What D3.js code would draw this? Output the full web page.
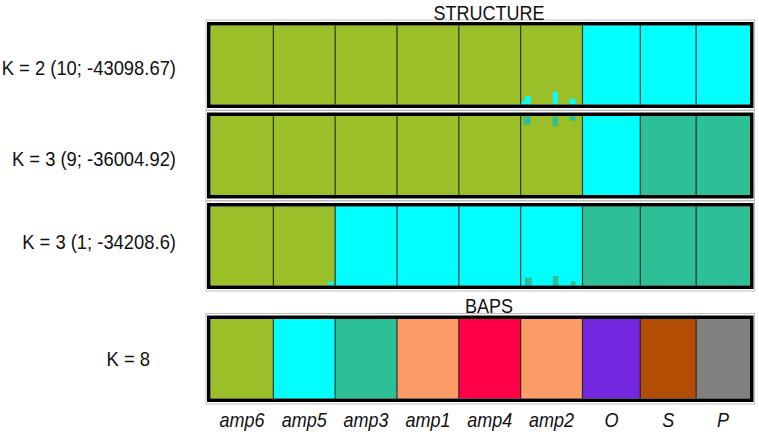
<!DOCTYPE html>
<html><head><meta charset="utf-8">
<script src="https://cdn.jsdelivr.net/npm/d3@7"></script>
<style>html,body{margin:0;padding:0;background:#fff;}svg{display:block;}</style>
</head><body>
<script>
// ---------- data ----------
const populations = ["amp6","amp5","amp3","amp1","amp4","amp2","O","S","P"];
const popWeights = [63,62,62,62,62,62,58,56,54];          // relative column widths (sample sizes)
const structureLabels = ["K = 2 (10; -43098.67)","K = 3 (9; -36004.92)","K = 3 (1; -34208.6)"];
const bapsLabel = "K = 8";
const structureAssign = [
  [0,0,0,0,0,0,1,1,1],
  [0,0,0,0,0,0,1,2,2],
  [0,0,1,1,1,1,2,2,2]
];
const bapsAssign = [0,1,2,3,4,3,5,6,7];
const structureColors = ["#9abf28","#00ffff","#2dbf96"];
const bapsColors = ["#9abf28","#00ffff","#2dbf96","#fc9b66","#ff0048","#7328e0","#b34d03","#808080"];
// admixed individuals: [row, population, start frac, end frac, proportion, cluster, fromTop]
const admixed = [
  [0,5,0.00,0.07,0.04,1,0],
  [0,5,0.07,0.16,0.11,1,0],
  [0,5,0.52,0.60,0.16,1,0],
  [0,5,0.79,0.89,0.07,1,0],
  [1,5,0.05,0.16,0.11,2,1],
  [1,5,0.52,0.60,0.13,2,1],
  [1,5,0.79,0.89,0.06,2,1],
  [2,5,0.07,0.18,0.10,2,0],
  [2,5,0.52,0.61,0.12,2,0],
  [2,5,0.81,0.89,0.05,2,0],
  [2,1,0.89,0.97,0.05,1,0]
];

// ---------- layout ----------
const W = 759, H = 436;
const svg = d3.select("body").append("svg").attr("width", W).attr("height", H)
  .style("font-family", "'Liberation Sans', Arial, sans-serif");

const starts = [0, ...Array.from(d3.cumsum(popWeights)).slice(0, -1)];
const x = d3.scaleLinear().domain([0, d3.sum(popWeights)]).range([210.5, 750]);
const yRow = d3.scaleBand().domain(d3.range(3)).range([22, 289]).paddingInner(0.05);
const bapsTop = 315.5, bapsH = 86.5;
const border = 3.5;

function drawPanel(top, h, assign, colors, rowIndex) {
  const g = svg.append("g");
  const inTop = top + border, inBot = top + h - border;
  const q = d3.scaleLinear().domain([0, 1]).range([0, inBot - inTop]);
  // gray outer hairline
  g.append("rect").attr("x", 206).attr("y", top - 2).attr("width", 548.5).attr("height", h + 4)
    .attr("fill", "none").attr("stroke", "#bdbdbd").attr("stroke-width", 1);
  // population fills
  g.selectAll("rect.pop").data(populations).join("rect").attr("class", "pop")
    .attr("x", (d, i) => x(starts[i]))
    .attr("width", (d, i) => x(starts[i] + popWeights[i]) - x(starts[i]) + 0.5)
    .attr("y", inTop).attr("height", inBot - inTop)
    .attr("fill", (d, i) => colors[assign[i]]);
  // admixed individuals
  if (rowIndex !== null) {
    const sp = admixed.filter(a => a[0] === rowIndex);
    g.selectAll("rect.adm").data(sp).join("rect").attr("class", "adm")
      .attr("x", a => x(starts[a[1]] + a[2] * popWeights[a[1]]))
      .attr("width", a => x(starts[a[1]] + a[3] * popWeights[a[1]]) - x(starts[a[1]] + a[2] * popWeights[a[1]]))
      .attr("y", a => a[6] ? inTop : inBot - q(a[4]))
      .attr("height", a => q(a[4]))
      .attr("fill", a => colors[a[5]]);
  }
  // dividers
  g.selectAll("line.div").data(starts.slice(1)).join("line").attr("class", "div")
    .attr("x1", d => x(d)).attr("x2", d => x(d))
    .attr("y1", inTop).attr("y2", inBot)
    .attr("stroke", "#1c1c1c").attr("stroke-opacity", 0.85).attr("stroke-width", 1.2);
  // black border
  g.append("rect").attr("x", 207 + border / 2).attr("y", top + border / 2)
    .attr("width", 546.5 - border).attr("height", h - border)
    .attr("fill", "none").attr("stroke", "#000").attr("stroke-width", border);
}

structureAssign.forEach((assign, r) => drawPanel(yRow(r), yRow.bandwidth(), assign, structureColors, r));
drawPanel(bapsTop, bapsH, bapsAssign, bapsColors, null);

// text helper with horizontal condensing
function label(txt, xPos, yPos, opts) {
  const o = Object.assign({size: 20, sx: 0.9, anchor: "middle", italic: false}, opts || {});
  svg.append("g").attr("transform", `translate(${xPos},${yPos}) scale(${o.sx},1)`)
    .append("text").attr("text-anchor", o.anchor).attr("font-size", o.size)
    .attr("font-style", o.italic ? "italic" : "normal").attr("fill", "#111").text(txt);
}

label("STRUCTURE", 489, 19.5);
label("BAPS", 489, 312.5);

const labelDy = [10.5, 10.5, 3];
structureLabels.forEach((t, r) => label(t, 176, yRow(r) + yRow.bandwidth() / 2 + labelDy[r], {anchor: "end", sx: 0.92}));
label(bapsLabel, 150, bapsTop + bapsH / 2 + 7, {anchor: "end", sx: 0.92});

populations.forEach((p, i) => label(p, x(starts[i] + popWeights[i] / 2), 427, {italic: true}));
</script>
</body></html>
